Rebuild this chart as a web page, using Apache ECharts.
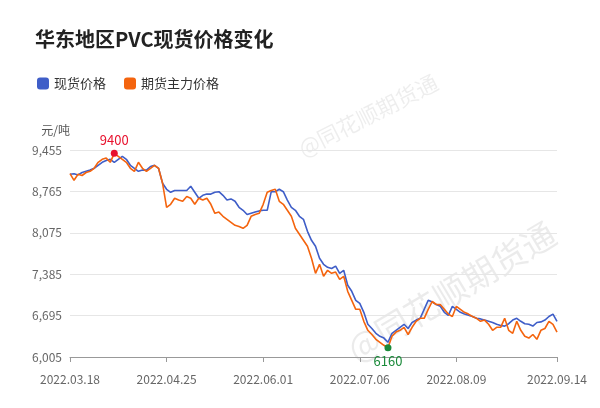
<!DOCTYPE html><html><head><meta charset="utf-8"><script src="https://cdn.jsdelivr.net/npm/echarts@6/dist/echarts.min.js"></script></head><body style="margin:0"><div id="c" style="width:600px;height:408px"></div><script>
const spot=[9050,9060,9040,9080,9100,9120,9150,9200,9250,9280,9300,9250,9300,9350,9300,9200,9150,9100,9120,9120,9180,9200,9150,8900,8800,8750,8780,8780,8780,8780,8850,8750,8650,8700,8720,8720,8750,8760,8700,8620,8640,8600,8500,8450,8380,8400,8420,8440,8450,8450,8760,8760,8800,8760,8620,8500,8450,8350,8300,8100,7950,7850,7650,7550,7500,
7480,7520,7400,7450,7200,7100,6950,6900,6750,6550,6480,6400,6350,6320,6250,6400,6450,6500,6550,6480,6580,6620,6650,6800,6950,6920,6880,6850,6750,6700,6850,6800,6750,6720,6700,6680,6650,6640,6620,6600,6580,6550,6530,6520,6560,6620,6650,6600,6560,6550,6520,6580,6590,6620,6680,6720,6600];
const futures=[9060,8950,9050,9030,9080,9100,9150,9250,9300,9320,9250,9400,9350,9300,9250,9150,9100,9250,9150,9100,9150,9200,9150,8900,8500,8550,8650,8620,8600,8680,8650,8550,8650,8620,8650,8550,8400,8420,8350,8300,8250,8200,8180,8150,8200,8350,8380,8400,8550,8750,8780,8800,8600,8550,8450,8350,8150,8050,7950,7850,7650,7400,7550,7350,7450,
7400,7420,7300,7350,7100,6950,6800,6800,6600,6450,6380,6300,6250,6200,6160,6350,6420,6450,6500,6380,6500,6600,6650,6650,6800,6930,6880,6880,6800,6720,6680,6850,6800,6750,6720,6680,6650,6600,6620,6550,6450,6500,6500,6650,6450,6400,6600,6450,6350,6320,6380,6300,6450,6480,6600,6550,6420];
const tickLabels=['2022.03.18','2022.04.25','2022.06.01','2022.07.06','2022.08.09','2022.09.14'];
const holidays=['2022.04.04','2022.04.05','2022.05.02','2022.05.03','2022.05.04','2022.06.03','2022.09.12'];
const N=Math.min(spot.length,futures.length);
const dates=[];let d=new Date(2022,2,18);
while(dates.length<N){const w=d.getDay();const s=d.getFullYear()+'.'+String(d.getMonth()+1).padStart(2,'0')+'.'+String(d.getDate()).padStart(2,'0');if(w!==0&&w!==6&&!holidays.includes(s))dates.push(s);d.setDate(d.getDate()+1);}
const fam='"Noto Sans CJK SC","Noto Sans",sans-serif';
const c=echarts.init(document.getElementById('c'));
c.setOption({
 textStyle:{fontFamily:fam},
 title:{text:'华东地区PVC现货价格变化',left:30,top:24,textStyle:{fontSize:20,fontWeight:'bold',color:'#222',fontFamily:fam}},
 legend:{left:32,top:72,itemWidth:12,itemHeight:12,icon:'roundRect',itemGap:18,textStyle:{fontSize:13,color:'#333'},data:['现货价格','期货主力价格']},
 graphic:[{type:'text',x:300,y:150,rotation:0.47,style:{text:'@同花顺期货通',fill:'rgba(0,0,0,0.07)',font:'22px '+fam,textVerticalAlign:'middle'}},
          {type:'text',x:350,y:352,rotation:0.54,style:{text:'@同花顺期货通',fill:'rgba(0,0,0,0.08)',font:'34px '+fam,textVerticalAlign:'middle'}}],
 grid:{left:70,right:43,top:150,bottom:51},
 xAxis:{type:'category',data:dates,boundaryGap:false,axisLine:{lineStyle:{color:'#999'}},axisTick:{alignWithLabel:true,interval:(i,v)=>tickLabels.includes(v)||i===N-1},
  axisLabel:{interval:(i,v)=>tickLabels.includes(v)||i===N-1,color:'#666',fontSize:12,margin:16,formatter:(v,i)=>i===N-1?tickLabels[5]:v}},
 yAxis:{type:'value',min:6005,max:9455,interval:690,name:'元/吨',nameGap:14,nameTextStyle:{color:'#555',fontSize:12,align:'right'},
  axisLabel:{color:'#666',fontSize:12,formatter:v=>v.toLocaleString('en-US')},splitLine:{lineStyle:{color:'#e6e6e6'}}},
 series:[
  {name:'现货价格',type:'line',data:spot.slice(0,N),showSymbol:false,itemStyle:{color:'#3f5ec8'},lineStyle:{width:1.6,color:'#3f5ec8'}},
  {name:'期货主力价格',type:'line',data:futures.slice(0,N),showSymbol:false,itemStyle:{color:'#f4640e'},lineStyle:{width:1.6,color:'#f4640e'},
   markPoint:{symbol:'circle',symbolSize:7,data:[
    {type:'max',itemStyle:{color:'#e8112d'},label:{position:'top',color:'#e8112d',fontSize:13,distance:3}},
    {type:'min',itemStyle:{color:'#1a8a3a'},label:{position:'bottom',color:'#1a8a3a',fontSize:13,distance:3}}]}}
 ]
});
</script></body></html>
